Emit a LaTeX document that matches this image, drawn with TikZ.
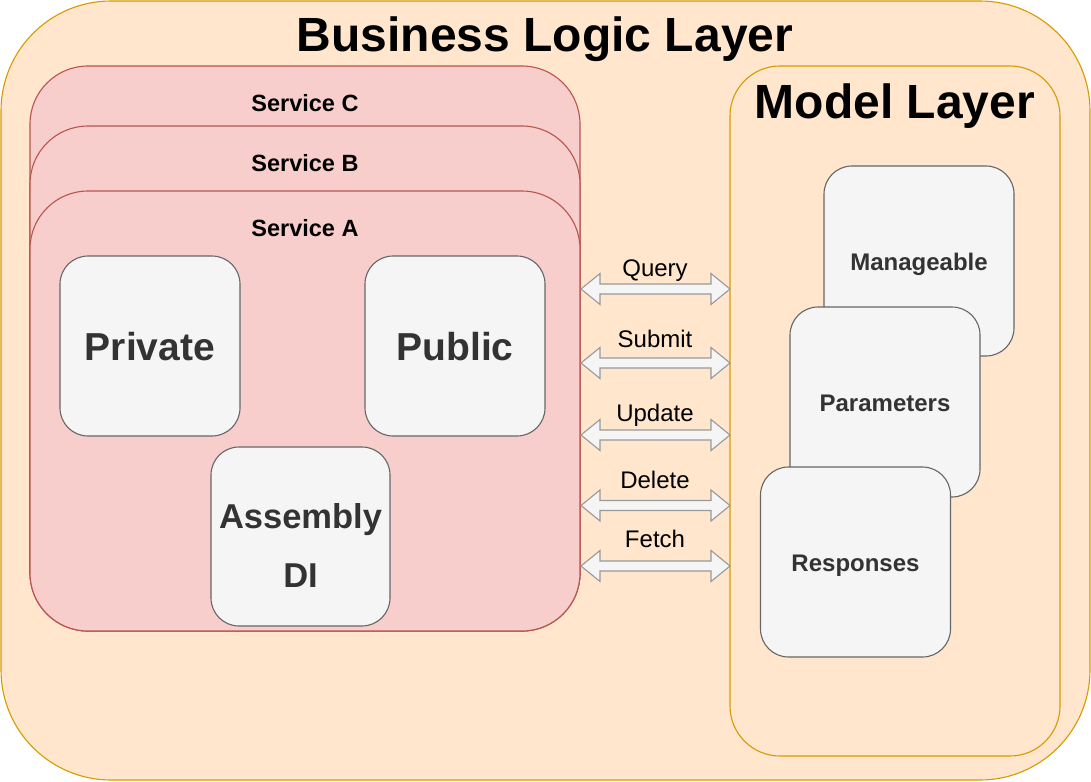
\documentclass[tikz,border=0pt]{standalone}
\usepackage{fontspec}
\setmainfont{Liberation Sans}
\usetikzlibrary{calc}
\definecolor{layerfill}{HTML}{FFE6CC}
\definecolor{layerdraw}{HTML}{D79B00}
\definecolor{svcfill}{HTML}{F8CECC}
\definecolor{svcdraw}{HTML}{B85450}
\definecolor{grayfill}{HTML}{F5F5F5}
\definecolor{graydraw}{HTML}{666666}
\definecolor{graytext}{HTML}{333333}
\definecolor{arrowdraw}{HTML}{999999}
\tikzset{
  layerbox/.style={draw=layerdraw, fill=layerfill, line width=1.1pt, rectangle, inner sep=0pt},
  svcbox/.style={draw=svcdraw, fill=svcfill, line width=1.1pt, rectangle, inner sep=0pt,
     rounded corners=58pt, minimum width=550pt},
  graybox/.style={draw=graydraw, fill=grayfill, line width=1.1pt, rectangle, inner sep=0pt,
     rounded corners=28pt},
  lbl/.style={anchor=base, inner sep=0pt},
  dbl/.style={draw=arrowdraw, fill=grayfill, line width=1.1pt, line join=miter, to path={
     (\tikztostart) -- ($(\tikztostart)+(19,-15.5)$) -- ($(\tikztostart)+(19,-5)$)
     -- ($(\tikztotarget)+(-19,-5)$) -- ($(\tikztotarget)+(-19,-15.5)$) -- (\tikztotarget)
     -- ($(\tikztotarget)+(-19,15.5)$) -- ($(\tikztotarget)+(-19,5)$)
     -- ($(\tikztostart)+(19,5)$) -- ($(\tikztostart)+(19,15.5)$) -- cycle}}
}
\begin{document}
\begin{tikzpicture}[x=1pt,y=-1pt]
\useasboundingbox (0,0) rectangle (1091,781);
% outer layer
\node[layerbox, rounded corners=110pt, minimum width=1089pt, minimum height=779pt] (bll) at (545.5,390.5) {};
% services
\node[svcbox, minimum height=565pt] (svcC) at (305,348.5) {};
\node[svcbox, minimum height=505pt] (svcB) at (305,378.5) {};
\node[svcbox, minimum height=440pt] (svcA) at (305,411) {};
% inner boxes of service A
\node[graybox, minimum width=180pt, minimum height=180pt] (priv) at (150,346) {};
\node[graybox, minimum width=180pt, minimum height=180pt] (pub) at (455,346) {};
\node[graybox, minimum width=179pt, minimum height=179pt] (asm) at (300.5,536.5) {};
% model layer
\node[layerbox, rounded corners=50pt, minimum width=330pt, minimum height=690pt] (model) at (895,411) {};
\node[graybox, minimum width=190pt, minimum height=190pt] (mng) at (919,261) {};
\node[graybox, minimum width=190pt, minimum height=190pt] (par) at (885,402) {};
\node[graybox, minimum width=190pt, minimum height=190pt] (res) at (855.5,562) {};
% titles
\node[lbl] (tbll) at (545,52) {\fontsize{48}{58}\selectfont\bfseries Business Logic Layer};
\node[lbl] (tmodel) at (895,118) {\fontsize{48}{58}\selectfont\bfseries Model Layer};
\node[lbl] (tC) at (305,111) {\fontsize{23.5}{28}\selectfont\bfseries Service C};
\node[lbl] (tB) at (305,171) {\fontsize{23.5}{28}\selectfont\bfseries Service B};
\node[lbl] (tA) at (305,236) {\fontsize{23.5}{28}\selectfont\bfseries Service A};
\node[lbl, text=graytext] (tpriv) at (150,360) {\fontsize{39}{47}\selectfont\bfseries Private};
\node[lbl, text=graytext] (tpub) at (455,360) {\fontsize{39}{47}\selectfont\bfseries Public};
\node[lbl, text=graytext] (tasm) at (300.5,528) {\fontsize{34.5}{41}\selectfont\bfseries Assembly};
\node[lbl, text=graytext] (tdi) at (300.5,587) {\fontsize{34.5}{41}\selectfont\bfseries DI};
\node[lbl, text=graytext] (tmng) at (919,270.5) {\fontsize{24}{29}\selectfont\bfseries Manageable};
\node[lbl, text=graytext] (tpar) at (885,411.5) {\fontsize{24}{29}\selectfont\bfseries Parameters};
\node[lbl, text=graytext] (tres) at (855.5,571.5) {\fontsize{24}{29}\selectfont\bfseries Responses};
% arrows
\coordinate (qL) at (581,289);   \coordinate (qR) at (730,289);
\coordinate (sL) at (581,363);   \coordinate (sR) at (730,363);
\coordinate (uL) at (581,435);   \coordinate (uR) at (730,435);
\coordinate (dL) at (581,505.5); \coordinate (dR) at (730,505.5);
\coordinate (fL) at (581,566);   \coordinate (fR) at (730,566);
\draw[dbl] (qL) to (qR);
\draw[dbl] (sL) to (sR);
\draw[dbl] (uL) to (uR);
\draw[dbl] (dL) to (dR);
\draw[dbl] (fL) to (fR);
\node[lbl] (lq) at (655,276) {\fontsize{24}{29}\selectfont Query};
\node[lbl] (ls) at (655,347) {\fontsize{24}{29}\selectfont Submit};
\node[lbl] (lu) at (655,421) {\fontsize{24}{29}\selectfont Update};
\node[lbl] (ld) at (655,488) {\fontsize{24}{29}\selectfont Delete};
\node[lbl] (lf) at (655,547) {\fontsize{24}{29}\selectfont Fetch};
\end{tikzpicture}
\end{document}
